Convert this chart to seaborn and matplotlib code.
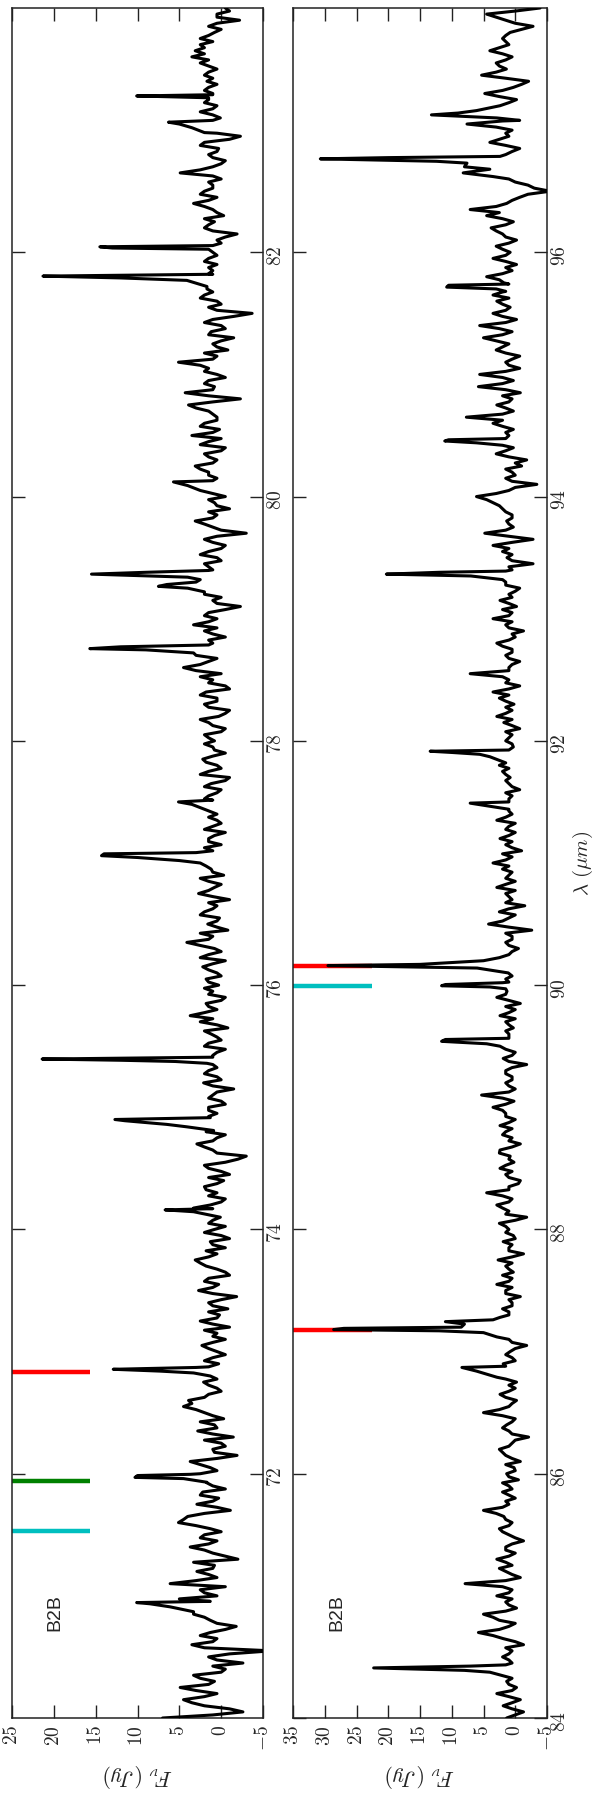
import numpy as np
import pandas as pd
import seaborn as sns
import matplotlib
matplotlib.use("Agg")
import matplotlib.pyplot as plt
from matplotlib.ticker import FixedLocator, FuncFormatter

# ---------------- data ----------------
# spectrum samples on the 0.05 um points; top panel 70-84 um, bottom panel 84-98 um
flux_top = [
    7.0, -2.6, 2.0, 4.5, 0.5, 4.9, 0.8, 3.3, -0.5, -2.6, 1.5, -6.0, 3.5, 0.5, 1.3, -1.8, 1.3, 3.3, 6.0, 1.3,   # 70
    0.5, 2.5, 6.1, 0.5, 2.9, 0.8, -2.0, 1.0, 3.7, 0.5, 2.0, 1.3, 5.1, 4.0, -1.1, 2.9, 0.3, 2.2, 1.0, 1.0,     # 71
    2.5, 1.3, 3.7, -1.9, 1.0, 0.0, -1.45, 2.8, 0.8, -0.3, 2.0, 4.5, 3.9, 1.5, 0.5, 2.1, 1.2, 1.0, 0.3, 1.0,   # 72
    0.5, 2.3, -0.5, 0.5, -1.0, 2.5, 0.2, -0.8, 1.5, -1.85, 2.7, 0.3, 1.5, -0.5, 1.8, 3.1, 0.5, -0.5, 1.3, 0.0,  # 73
    0.8, 1.5, 0.2, 1.0, 1.3, -0.5, 0.5, 2.0, -0.3, -1.0, 1.5, -0.5, -3.0, 1.0, 2.9, 0.5, 1.8, 1.0, 1.0, 0.5,  # 74
    1.5, 0.0, 1.0, -1.5, 2.1, 0.5, 1.5, 1.0, 1.0, 0.5, 2.0, 0.0, 1.2, -0.8, 2.5, 3.7, 0.5, 1.8, -0.5, 1.0,    # 75
    0.3, 1.8, 0.5, 2.2, -0.5, 1.5, 0.8, 4.1, 1.0, -0.8, 1.6, 0.2, 2.0, 0.5, -1.0, 2.7, 0.8, 1.5, -0.3, 1.2,   # 76
    2.5, 1.0, 1.0, 0.0, 1.5, -0.5, 1.0, 0.5, 0.5, 2.0, 1.0, 1.5, 0.0, 1.2, -1.0, 1.5, 0.5, 2.2, -0.5, 1.0,    # 77
    0.8, 2.0, -0.5, 1.5, 0.3, -1.0, 2.0, 0.5, 1.8, -0.5, 1.0, 0.0, 4.5, 1.5, 3.0, 1.0, 1.0, -0.5, 2.0, 3.3,   # 78
    0.5, 1.5, -2.3, 1.0, 2.0, 1.0, 1.0, 1.0, 1.0, 2.0, 0.5, 1.5, -0.5, 2.0, -3.0, 1.0, 3.1, 0.5, -1.0, 0.8,   # 79
    -0.5, 2.5, 4.0, 0.5, 1.5, 3.1, 0.5, 2.0, -0.5, 1.5, 3.5, 0.2, 2.0, 0.5, 1.5, 3.9, -2.3, 4.3, 0.8, 1.5,   # 80
    0.5, 1.5, 5.1, 0.5, -0.8, 1.0, -1.5, 1.2, 0.0, 1.0, -3.7, 1.5, 0.5, 2.0, 1.7, 1.0, 1.0, 1.0, 0.5, 1.5,   # 81
    1.0, 1.0, 0.5, -1.9, 2.0, 0.8, -0.3, 1.0, 3.3, 0.5, 2.0, 1.0, 0.0, 4.9, 1.0, -0.5, 1.5, 0.3, 2.0, -2.3,  # 82
    2.0, 1.0, 0.1, 2.5, 0.5, 1.5, 1.0, 1.5, 1.7, 2.0, 0.5, 2.5, 3.5, 3.1, 2.5, 2.5, 0.8, 1.5, -2.2, 0.5,     # 83
    -0.5,                                                                                                   # 84
]
# samples half-way between them (70.025, 70.075, ... 83.975)
flux_top_mid = [
    1.0, -1.0, 3.5, 2.0, 3.0, 1.5, 2.5, 0.0, 1.0, 0.5, -1.0, 2.0, 1.0, 2.5, -0.5, 0.5, 2.0, 4.0, 7.0, 5.0,
    2.0, -0.5, 3.0, 1.5, 1.0, 3.3, -0.5, 2.0, 1.5, 2.5, 0.0, 3.0, 4.5, 2.0, 0.5, 1.0, 2.5, -0.5, 1.7, 2.0,
    0.5, 2.5, 0.5, 0.8, -0.5, 2.0, 1.0, 0.5, 2.5, 1.0, 3.0, 3.5, 2.0, 0.0, 1.5, 0.5, 2.0, 1.5, 2.0, -0.5,
    1.5, 1.0, 1.0, 2.0, 1.0, 0.5, 1.5, 1.0, 0.0, 1.0, 1.0, 2.0, -1.0, 0.5, 2.5, 1.5, 1.8, 1.0, -1.0, 2.0,
    -0.5, 1.0, 1.5, 3.3, 0.0, 1.5, 1.8, 0.5, 1.5, 0.0, 2.0, -2.0, 0.5, 2.0, 1.0, -0.5, 2.5, 3.0, 1.5, 1.5,
    -0.5, 1.5, 0.5, 1.0, 0.0, 2.0, 0.5, 1.2, 1.0, -0.5, 1.5, 0.5, 2.0, 0.5, 1.0, 2.0, 1.5, 0.0, 1.5, 2.0,
    1.5, 0.0, 1.5, 1.0, 2.5, 0.0, 2.5, 1.5, 2.5, 0.5, 0.5, 2.5, 1.0, 1.5, 1.0, 1.5, 0.0, 2.5, 1.0, 1.8,
    2.0, 2.0, 2.0, 1.5, 0.8, 2.0, 0.0, 1.5, 1.0, 3.0, 2.0, 0.5, 2.0, -0.5, 2.5, 0.0, 1.8, 1.0, 0.8, 2.0,
    1.5, 0.0, 1.0, 2.5, -0.5, 1.5, 0.5, 2.5, -1.0, 1.5, 2.5, 3.0, 2.5, 0.5, 2.0, 1.0, 1.5, 1.0, 0.5, 1.5,
    2.0, -0.5, 0.5, 0.0, 1.5, 2.0, 3.0, 2.0, 1.5, 0.0, 2.5, 0.0, 1.0, 0.5, 0.0, 2.0, 1.0, 1.5, 0.5, 1.5,
    1.0, 3.0, 5.0, 1.5, 2.5, 1.0, 1.5, 0.0, 2.5, 0.0, 1.0, 2.5, 0.5, 1.0, 3.0, 1.0, 1.5, 1.0, 2.0, -0.5,
    2.0, 2.5, 1.0, 2.0, 0.5, 0.0, 1.5, -0.5, 2.0, -1.5, 0.5, 0.0, 2.5, 1.0, 3.0, 1.5, 1.5, 1.5, 2.0, 0.5,
    1.5, 0.0, -0.5, 1.0, 1.5, 2.0, 0.5, 2.0, 1.5, 2.5, 1.0, 1.5, 1.0, 2.5, 0.0, 1.0, 0.5, 2.5, -1.0, 0.5,
    2.5, 3.5, 1.0, 1.0, 2.0, 0.0, 2.0, 0.5, 1.0, 1.5, 1.5, 1.5, 2.0, 2.0, 1.0, 1.5, 0.0, 0.5, 0.5, -1.0,
]
flux_bot = [
    1.35, -1.3, 1.9, -0.8, 2.9, -0.2, 1.35, 1.0, 1.0, 0.5, 2.0, 0.5, -1.3, 1.9, 5.8, 1.0, 2.5, 5.0, -0.2, 1.5,  # 84
    2.9, 0.5, 7.9, -0.8, 1.5, 0.5, 2.9, 0.0, 1.5, -1.3, 1.0, 2.5, 0.5, 1.8, 5.0, 1.0, 0.0, 2.0, 1.0, -0.5,     # 85
    1.35, 0.2, -0.8, 1.5, 2.5, 0.5, -2.1, 1.0, 1.35, 0.0, 5.0, 1.0, -0.2, 2.4, 0.0, -0.2, 2.9, 1.0, 1.9, 0.5,  # 86
    0.8, -1.8, 1.0, 1.0, 1.0, 1.0, 1.0, 2.0, 0.5, -0.8, 1.5, 2.9, 0.5, 0.3, 1.5, 2.7, -1.3, 1.0, 1.9, 0.3,     # 87
    1.0, 2.5, -1.8, 1.0, 2.9, 0.5, 4.5, 1.0, -0.8, 1.5, 2.4, 0.2, 0.8, 2.4, -0.8, 0.5, 1.5, 2.4, 0.0, 1.5,     # 88
    3.5, 0.2, 5.3, 0.0, 1.5, 0.5, 1.5, -1.8, 1.9, 0.0, 2.4, 1.0, 1.0, 0.3, 1.5, 2.4, 0.0, -0.8, 2.9, 1.3,      # 89
    1.0, 1.5, 1.1, 1.0, 1.0, 1.0, -0.5, 1.5, 0.5, -2.6, 4.2, 1.0, 2.5, -1.5, 0.5, 1.5, 2.9, 0.0, 1.0, 2.0,     # 90
    3.5, 0.5, -1.0, 1.5, 2.4, 0.0, 1.0, 2.9, 0.5, 1.0, 1.0, 0.5, -0.7, 1.0, 0.8, 2.0, 2.5, 1.0, 1.0, 0.3,      # 91
    1.5, 0.5, -0.7, 1.8, 2.9, 0.5, 0.2, 2.5, 3.5, -0.7, 1.0, 7.1, 1.0, -0.7, 1.5, 0.5, 2.9, 0.0, -1.3, 1.5,    # 92
    3.5, 0.5, -0.2, 2.4, 1.0, -0.7, 1.5, 1.0, 0.5, -2.8, 1.3, 2.0, 3.5, -2.8, 4.8, 0.3, 1.35, 0.5, 2.0, 3.5,   # 93
    6.1, 1.0, -3.4, 1.5, 0.5, -1.0, -1.8, 3.0, 0.3, 1.0, 1.0, 0.3, 3.5, 7.7, 0.3, 2.9, 0.5, -0.8, 5.8, 0.3,    # 94
    5.6, -0.7, 1.5, -0.7, 3.0, 1.0, 5.0, 0.5, 5.6, -0.2, 3.5, 0.8, 2.9, 3.5, 1.0, 1.8, 4.5, 0.5, -0.2, 3.5,    # 95
    0.8, 3.0, -0.2, 2.0, 3.8, 0.3, 4.5, 7.1, 1.35, -0.7, -5.5, -2.0, 1.0, 1.0, 1.0, 1.0, 1.5, -0.7, 4.0, 1.0,  # 96
    0.5, 7.6, 1.0, 1.0, 1.0, -0.2, 4.8, 0.3, -2.1, 5.3, 1.4, 3.0, 0.5, 4.0, 1.0, 2.0, 0.8, -2.8, 1.5, 4.5,     # 97
    -3.9,                                                                                                   # 98
]
flux_bot_mid = [
    0.0, 0.5, 0.5, 1.0, 0.5, 1.0, 0.5, 1.0, 1.0, 1.0, 1.0, 1.5, 0.0, 3.5, 2.5, 0.0, 3.5, 1.5, 1.0, 0.5,
    1.0, 2.0, 1.5, 0.5, 2.5, 1.5, 1.0, 1.5, 0.5, 0.0, 2.0, 1.0, 1.5, 3.0, 2.0, 1.5, 1.0, 0.5, 2.0, 1.0,
    0.0, 1.5, 0.5, 2.0, 1.0, 0.0, 0.5, 2.0, 0.5, 2.0, 2.5, 0.5, 1.5, 1.0, 1.0, 1.5, 1.0, 1.5, 0.0, 1.5,
    0.0, 0.5, 2.0, 1.0, 1.0, 1.0, 1.0, 0.5, 1.0, 1.5, 0.5, 1.0, 2.0, 1.0, 0.5, 0.5, 1.0, 0.5, 0.0, 1.5,
    1.5, 0.0, 1.5, 2.0, 1.0, 2.0, 1.0, -0.5, 1.0, 0.5, 1.5, 1.0, 2.5, 0.5, 1.0, 2.0, 0.5, 1.0, 1.5, 2.0,
    1.5, 2.0, 1.0, 1.0, 0.5, 1.5, 0.5, 1.0, 0.5, 1.5, 1.0, 1.0, 1.5, 1.0, 0.0, 1.0, 1.5, 1.0, 1.5, 1.0,
    1.0, 0.5, 1.5, 1.0, 1.0, 0.5, 1.0, 0.5, 1.5, 1.0, 2.0, 0.0, 1.0, 1.5, 1.0, 0.0, 1.5, 1.5, 0.5, 1.0,
    1.5, 2.0, 0.5, 0.5, 1.0, 1.5, 0.0, 1.5, 1.0, 1.0, 1.0, 1.5, 0.5, 1.5, 1.5, 1.0, 1.5, 1.0, 1.0, 0.5,
    1.0, 1.5, 0.5, 0.5, 1.5, 1.5, 1.5, 1.0, 1.0, 1.5, 2.0, 1.0, 0.5, 1.0, 0.5, 2.0, 1.0, 0.5, 1.0, 0.5,
    1.0, 2.0, 1.0, 0.5, 0.0, 1.5, 1.0, 1.0, 1.0, 0.5, 0.5, 1.0, 0.5, 1.0, 1.5, 1.0, 0.5, 1.5, 2.5, 4.5,
    3.0, 0.0, 0.5, 0.0, 1.5, 0.0, 1.0, 1.5, 1.5, 1.0, 1.5, 2.0, 2.0, 2.0, 1.5, 1.0, 2.0, 1.5, 2.0, 2.0,
    1.5, 1.0, 0.5, 1.5, 2.0, 3.0, 2.0, 2.5, 1.5, 2.0, 1.5, 2.0, 1.0, 2.0, 1.0, 2.5, 2.0, 1.5, 1.5, 1.5,
    2.0, 1.0, 1.5, 3.0, 1.5, 2.0, 2.5, 3.0, 0.5, -2.0, -3.0, 0.0, 2.0, 1.0, 1.0, 1.0, 0.5, 1.5, 2.5, 1.5,
    3.0, 2.0, 1.0, 1.0, 1.0, 2.5, 2.0, -1.0, 1.5, 3.0, 2.5, 1.5, 2.0, 2.5, 1.5, 1.5, -1.0, 0.0, 3.0, 0.0,
]

# emission lines, sampled more finely (wavelength um, flux Jy)
peak_wl_top = [
    [70.87, 70.91, 70.935, 70.945, 70.955],
    [71.93, 71.96, 71.97, 71.985, 71.995],
    [72.80, 72.825, 72.84, 72.855, 72.87],
    [74.10, 74.145, 74.16, 74.17],
    [74.81, 74.84, 74.86, 74.89, 74.90, 74.915],
    [75.36, 75.375, 75.385, 75.395, 75.41],
    [77.00, 77.02, 77.045, 77.06, 77.075, 77.085],
    [77.40, 77.44, 77.48, 77.50, 77.515],
    [78.72, 78.745, 78.755, 78.77, 78.78, 78.785],
    [79.22, 79.25, 79.265, 79.28, 79.30, 79.32, 79.34, 79.355, 79.365, 79.38, 79.395],
    [80.05, 80.09, 80.12, 80.13],
    [81.72, 81.77, 81.79, 81.805, 81.82],
    [82.025, 82.035, 82.045, 82.055],
    [82.98, 83.02, 83.05, 83.065, 83.08],
    [83.265, 83.28, 83.29],
]
peak_fx_top = [
    [3.3, 6.1, 8.5, 10.1, 1.3],
    [1.7, 4.5, 10.3, 10.0, 3.7],
    [1.3, 3.3, 7.3, 12.9, 3.0],
    [0.1, 3.3, 6.7, 1.0],
    [0.9, 4.1, 6.5, 11.5, 12.7, 1.3],
    [1.7, 5.5, 12.0, 21.4, 1.0],
    [2.5, 5.0, 10.0, 14.3, 14.0, 3.0],
    [0.5, 2.0, 3.5, 5.1, 1.0],
    [3.3, 9.0, 15.7, 12.0, 5.0, 1.5],
    [2.0, 4.0, 7.5, 6.5, 3.0, 2.5, 4.0, 11.0, 15.5, 9.0, 1.5],
    [2.5, 4.0, 5.7, 1.0],
    [1.7, 4.1, 12.0, 21.3, 1.0],
    [1.5, 13.0, 14.5, 1.0],
    [2.0, 3.5, 5.0, 6.3, 1.0],
    [1.5, 10.1, 1.0],
]
peak_wl_bot = [
    [84.33, 84.36, 84.375, 84.39, 84.41, 84.425, 84.435],
    [86.79, 86.84, 86.87, 86.88],
    [87.12, 87.155, 87.17, 87.18, 87.19, 87.20, 87.225, 87.245, 87.26, 87.28],
    [89.50, 89.52, 89.54, 89.555, 89.565],
    [89.97, 89.985, 89.995, 90.005, 90.02],
    [90.12, 90.14, 90.15, 90.16, 90.17, 90.20, 90.225],
    [91.44, 91.465, 91.49, 91.50],
    [91.82, 91.87, 91.89, 91.905, 91.915, 91.925],
    [93.32, 93.35, 93.365, 93.38, 93.39],
    [94.42, 94.44, 94.455, 94.465, 94.475],
    [95.68, 95.70, 95.715, 95.73, 95.74],
    [96.62, 96.65, 96.68, 96.70, 96.73, 96.745, 96.765, 96.775, 96.785],
    [97.08, 97.10, 97.115, 97.125, 97.14, 97.16, 97.20],
]
peak_fx_bot = [
    [0.8, 2.9, 4.0, 8.0, 22.3, 7.0, 1.5],
    [2.9, 6.1, 8.4, 1.5],
    [2.9, 5.0, 12.0, 28.6, 27.0, 8.5, 8.0, 11.0, 3.5, 2.4],
    [2.4, 4.5, 11.6, 11.0, 1.0],
    [1.5, 4.0, 11.6, 11.0, 2.0],
    [3.5, 6.0, 18.0, 29.5, 15.0, 5.0, 2.5],
    [1.0, 4.0, 7.1, 1.0],
    [1.5, 4.0, 5.6, 10.0, 13.4, 1.0],
    [2.0, 7.0, 20.3, 12.0, 1.5],
    [2.0, 6.1, 11.1, 10.5, 1.5],
    [1.5, 3.0, 10.8, 10.5, 1.0],
    [3.5, 8.2, 4.0, 8.0, 7.6, 12.4, 30.7, 20.0, 2.4],
    [-0.7, 2.9, 9.0, 13.2, 9.0, 6.1, 2.4],
]

# line identification markers (um)
marks_top = {"c": [71.53], "g": [71.94], "r": [72.83]}
marks_bot = {"c": [89.99], "r": [87.18, 90.155]}

flux_ticks_top = [-5, 0, 5, 10, 15, 20, 25]
flux_ticks_bot = [-5, 0, 5, 10, 15, 20, 25, 30, 35]
wl_ticks_top = [72, 74, 76, 78, 80, 82]
wl_ticks_bot = [84, 86, 88, 90, 92, 94, 96]
label_text = "B2B"


def build(start, grid_flux, mid_flux, pk_wl, pk_fx):
    assert len(grid_flux) == 281 and len(mid_flux) == 280
    fx = np.empty(561)
    fx[0::2] = grid_flux
    fx[1::2] = mid_flux
    wl = np.round(start + 0.025 * np.arange(561), 4)
    keep = np.ones(len(wl), bool)
    pw, pf = [], []
    for gw, gf in zip(pk_wl, pk_fx):
        assert len(gw) == len(gf)
        keep &= ~((wl >= min(gw) - 1e-6) & (wl <= max(gw) + 1e-6))
        pw += gw
        pf += gf
    aw = np.concatenate([wl[keep], pw])
    af = np.concatenate([fx[keep], pf])
    o = np.argsort(aw)
    return pd.DataFrame({"wl": aw[o], "flux": af[o]})


df_top = build(70.0, flux_top, flux_top_mid, peak_wl_top, peak_fx_top)
df_bot = build(84.0, flux_bot, flux_bot_mid, peak_wl_bot, peak_fx_bot)

# ---------------- figure ----------------
sns.set_style("white")
plt.rcParams["mathtext.fontset"] = "cm"
plt.rcParams["font.family"] = ["DejaVu Serif"]

W, H = 600, 1800
fig = plt.figure(figsize=(6, 18), dpi=100)
ax1 = fig.add_axes([12 / W, 82 / H, 251 / W, 1710 / H])
ax2 = fig.add_axes([293 / W, 82 / H, 254 / W, 1710 / H])

colmap = {"c": (0.0, 0.75, 0.75), "g": (0.0, 0.5, 0.0), "r": (1.0, 0.0, 0.0)}
mfmt = FuncFormatter(lambda v, p: f"${v:g}$")

panels = [
    (ax1, df_top, (25, -5), (70, 84), flux_ticks_top, wl_ticks_top, marks_top),
    (ax2, df_bot, (35, -5), (84, 98), flux_ticks_bot, wl_ticks_bot, marks_bot),
]
for ax, df, xl, yl, fticks, wticks, marks in panels:
    for key, wls in marks.items():
        for w in wls:
            ax.axhline(w, xmin=0.0, xmax=0.31, color=colmap[key], lw=3.2, zorder=1,
                       solid_capstyle="butt")
    sns.lineplot(data=df, x="flux", y="wl", orient="y", sort=False, estimator=None,
                 color="black", linewidth=2.2, ax=ax, zorder=3)
    ax.set_xlim(*xl)
    ax.set_ylim(*yl)
    ax.xaxis.set_major_locator(FixedLocator(fticks))
    ax.yaxis.set_major_locator(FixedLocator(wticks))
    ax.xaxis.set_major_formatter(mfmt)
    ax.yaxis.set_major_formatter(mfmt)
    ax.tick_params(axis="both", which="major", direction="in", length=9.5, width=1.0,
                   color="#222222", labelsize=14, labelrotation=90,
                   top=True, bottom=True, left=True, right=True,
                   labelleft=False, labelright=True, labeltop=False, labelbottom=True)
    ax.tick_params(axis="x", pad=5)
    ax.tick_params(axis="y", pad=3)
    for sp in ax.spines.values():
        sp.set_linewidth(1.1)
        sp.set_color("#222222")
    ax.set_xlabel(r"$F_\nu\ (Jy)$", rotation=180, fontsize=16, labelpad=8)
    ax.set_ylabel("")
    ax.text(0.172, 0.0614, label_text, transform=ax.transAxes, rotation=90,
            ha="center", va="center", fontsize=14, family="Liberation Sans")

ax2.yaxis.set_label_position("right")
ax2.set_ylabel(r"$\lambda\ (\mu m)$", rotation=90, fontsize=15, labelpad=1)

fig.savefig("out.png", dpi=100)
